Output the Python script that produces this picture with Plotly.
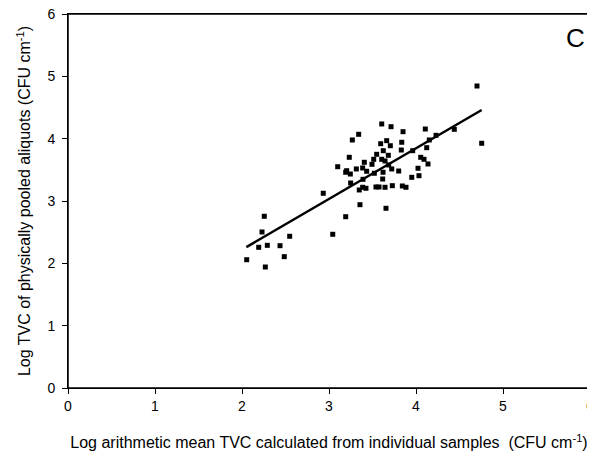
import plotly.graph_objects as go

# Observed points: log arithmetic mean TVC (x) vs log TVC of pooled aliquots (y)
mean_tvc = [3.606, 3.713, 3.851, 3.341, 3.268, 3.663, 3.594, 3.705, 3.836, 3.831,
            3.962, 3.624, 3.548, 3.682, 3.233, 3.514, 3.606, 3.644, 3.406, 3.494,
            3.686, 3.100, 3.387, 3.314, 3.721, 3.203, 3.433, 3.621, 3.801, 3.192,
            3.245, 3.521, 3.617, 3.391, 3.249, 4.023, 3.951, 4.034, 3.348, 3.387,
            3.425, 3.540, 3.575, 3.644, 3.728, 3.843, 3.885, 2.934, 3.356, 3.655,
            3.192, 2.256, 2.230, 2.548, 3.043, 2.192, 2.291, 2.437, 2.486, 2.054,
            2.268, 4.107, 4.440, 4.755, 4.153, 4.230, 4.123, 4.054, 4.092, 4.138,
            4.701]
pooled_tvc = [4.236, 4.192, 4.112, 4.070, 3.979, 3.968, 3.919, 3.887, 3.942, 3.818,
              3.807, 3.807, 3.749, 3.733, 3.701, 3.669, 3.669, 3.642, 3.621, 3.589,
              3.578, 3.550, 3.530, 3.514, 3.514, 3.486, 3.477, 3.461, 3.481, 3.461,
              3.433, 3.445, 3.353, 3.348, 3.289, 3.525, 3.380, 3.406, 3.177, 3.220,
              3.204, 3.225, 3.225, 3.220, 3.246, 3.241, 3.220, 3.124, 2.941, 2.883,
              2.748, 2.755, 2.503, 2.434, 2.466, 2.257, 2.289, 2.283, 2.107, 2.058,
              1.941, 4.155, 4.150, 3.926, 3.979, 4.054, 3.855, 3.701, 3.669, 3.594,
              4.845]

# Regression line end points
fit_x = [2.05, 4.755]
fit_y = [2.26, 4.46]

tick_vals = [0, 1, 2, 3, 4, 5, 6]
tick_text = ["0", "1", "2", "3", "4", "5", "6"]
axis_range = [0, 6]

FONT = "Liberation Sans, Arial, sans-serif"

fig = go.Figure()
fig.add_trace(go.Scatter(x=mean_tvc, y=pooled_tvc, mode="markers",
                         marker=dict(symbol="square", size=5, color="black"),
                         showlegend=False, cliponaxis=False))
fig.add_trace(go.Scatter(x=fit_x, y=fit_y, mode="lines",
                         line=dict(color="black", width=2.5), showlegend=False))

axis_common = dict(
    range=axis_range, tickvals=tick_vals, ticktext=tick_text,
    showgrid=False, zeroline=False, showline=True, linecolor="black", linewidth=1,
    mirror=True, ticks="outside", ticklen=5, tickcolor="black", tickwidth=1,
    tickfont=dict(family=FONT, size=14, color="black"), automargin=False,
    ticklabeloverflow="allow",
)

# page body has an 8px default margin, so the figure is sized to fit the window
fig.update_layout(
    width=587, height=453,
    margin=dict(l=60, r=5, t=6, b=73),
    paper_bgcolor="white", plot_bgcolor="white",
    font=dict(family=FONT, color="black"),
    xaxis=dict(**axis_common,
               title=dict(text="Log arithmetic mean TVC calculated from individual samples  (CFU cm<sup>-1</sup>)",
                          font=dict(family=FONT, size=16), standoff=24)),
    yaxis=dict(**axis_common, ticklabelstandoff=4,
               title=dict(text="Log TVC of physically pooled aliquots (CFU cm<sup>-1</sup>)",
                          font=dict(family=FONT, size=16), standoff=12)),
    shapes=[dict(type="rect", xref="x", yref="y",
                 x0=axis_range[0], y0=axis_range[0], x1=axis_range[1], y1=axis_range[1],
                 line=dict(color="black", width=1.5), fillcolor="rgba(0,0,0,0)",
                 layer="above")],
    annotations=[dict(text="C", x=0.972, y=0.935, xref="paper", yref="paper",
                      showarrow=False, xanchor="center", yanchor="middle",
                      font=dict(family=FONT, size=26, color="black"))],
)

fig.write_html("out.html")
